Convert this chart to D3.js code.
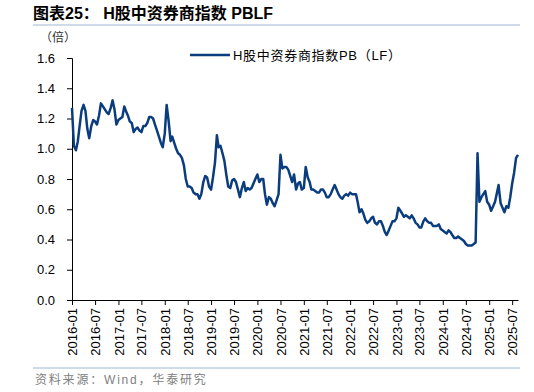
<!DOCTYPE html>
<html><head><meta charset="utf-8">
<script src="https://cdn.jsdelivr.net/npm/d3@7"></script>
<style>
body{margin:0;background:#fff}
svg{display:block}
text{font-family:"Liberation Sans",Arial,"Noto Sans CJK SC",sans-serif}
</style>
</head><body>
<svg id="chart" width="534" height="392"></svg>
<script>
const titleText = "图表25： H股中资券商指数 PBLF";
const unitText = "（倍）";
const seriesName = "H股中资券商指数PB（LF）";
const sourceText = "资料来源：Wind，华泰研究";
const yTickValues = [0, 0.2, 0.4, 0.6, 0.8, 1.0, 1.2, 1.4, 1.6];
const xTickLabels = ["2016-01","2016-07","2017-01","2017-07","2018-01","2018-07","2019-01","2019-07","2020-01","2020-07","2021-01","2021-07","2022-01","2022-07","2023-01","2023-07","2024-01","2024-07","2025-01","2025-07"];
const dates = [
"2016-01-01","2016-01-16","2016-02-01","2016-02-16","2016-03-01","2016-03-16","2016-04-01","2016-04-16","2016-05-01","2016-05-16","2016-06-01","2016-06-16","2016-07-01","2016-07-16","2016-08-01","2016-08-16","2016-09-01","2016-09-16","2016-10-01","2016-10-16","2016-11-01","2016-11-16","2016-12-01","2016-12-16",
"2017-01-01","2017-01-16","2017-02-01","2017-02-16","2017-03-01","2017-03-16","2017-04-01","2017-04-16","2017-05-01","2017-05-16","2017-06-01","2017-06-16","2017-07-01","2017-07-16","2017-08-01","2017-08-16","2017-09-01","2017-09-16","2017-10-01","2017-10-16","2017-11-01","2017-11-16","2017-12-01","2017-12-16",
"2018-01-01","2018-01-16","2018-02-01","2018-02-16","2018-03-01","2018-03-16","2018-04-01","2018-04-16","2018-05-01","2018-05-16","2018-06-01","2018-06-16","2018-07-01","2018-07-16","2018-08-01","2018-08-16","2018-09-01","2018-09-16","2018-10-01","2018-10-16","2018-11-01","2018-11-16","2018-12-01","2018-12-16",
"2019-01-01","2019-01-16","2019-02-01","2019-02-16","2019-03-01","2019-03-16","2019-04-01","2019-04-16","2019-05-01","2019-05-16","2019-06-01","2019-06-16","2019-07-01","2019-07-16","2019-08-01","2019-08-16","2019-09-01","2019-09-16","2019-10-01","2019-10-16","2019-11-01","2019-11-16","2019-12-01","2019-12-16",
"2020-01-01","2020-01-16","2020-02-01","2020-02-16","2020-03-01","2020-03-16","2020-04-01","2020-04-16","2020-05-01","2020-05-16","2020-06-01","2020-06-16","2020-07-01","2020-07-16","2020-08-01","2020-08-16","2020-09-01","2020-09-16","2020-10-01","2020-10-16","2020-11-01","2020-11-16","2020-12-01","2020-12-16",
"2021-01-01","2021-01-16","2021-02-01","2021-02-16","2021-03-01","2021-03-16","2021-04-01","2021-04-16","2021-05-01","2021-05-16","2021-06-01","2021-06-16","2021-07-01","2021-07-16","2021-08-01","2021-08-16","2021-09-01","2021-09-16","2021-10-01","2021-10-16","2021-11-01","2021-11-16","2021-12-01","2021-12-16",
"2022-01-01","2022-01-16","2022-02-01","2022-02-16","2022-03-01","2022-03-16","2022-04-01","2022-04-16","2022-05-01","2022-05-16","2022-06-01","2022-06-16","2022-07-01","2022-07-16","2022-08-01","2022-08-16","2022-09-01","2022-09-16","2022-10-01","2022-10-16","2022-11-01","2022-11-16","2022-12-01","2022-12-16",
"2023-01-01","2023-01-16","2023-02-01","2023-02-16","2023-03-01","2023-03-16","2023-04-01","2023-04-16","2023-05-01","2023-05-16","2023-06-01","2023-06-16","2023-07-01","2023-07-16","2023-08-01","2023-08-16","2023-09-01","2023-09-16","2023-10-01","2023-10-16","2023-11-01","2023-11-16","2023-12-01","2023-12-16",
"2024-01-01","2024-01-16","2024-02-01","2024-02-16","2024-03-01","2024-03-16","2024-04-01","2024-04-16","2024-05-01","2024-05-16","2024-06-01","2024-06-16","2024-07-01","2024-07-16","2024-08-01","2024-08-16","2024-09-01","2024-09-16","2024-10-01","2024-10-16","2024-11-01","2024-11-16","2024-12-01","2024-12-16",
"2025-01-01","2025-01-16","2025-02-01","2025-02-16","2025-03-01","2025-03-16","2025-04-01","2025-04-16","2025-05-01","2025-05-16","2025-06-01","2025-06-16","2025-07-01","2025-07-16","2025-08-01","2025-08-16"
];
const pbValues = [
1.27,1.02,0.99,1.05,1.15,1.25,1.29,1.25,1.13,1.07,
1.15,1.19,1.18,1.16,1.22,1.30,1.28,1.26,1.24,1.23,
1.27,1.32,1.26,1.16,1.19,1.20,1.21,1.28,1.25,1.22,
1.18,1.17,1.11,1.13,1.14,1.12,1.11,1.15,1.15,1.17,
1.21,1.21,1.20,1.16,1.12,1.08,1.04,1.01,1.10,1.29,
1.18,1.05,1.08,1.04,1.00,0.97,0.96,0.94,0.89,0.80,
0.75,0.75,0.74,0.71,0.70,0.70,0.67,0.70,0.78,0.82,
0.81,0.75,0.73,0.81,0.91,1.09,1.01,1.02,0.97,0.92,
0.83,0.75,0.74,0.79,0.80,0.78,0.73,0.68,0.74,0.78,
0.72,0.74,0.73,0.74,0.77,0.80,0.83,0.78,0.80,0.80,
0.70,0.63,0.68,0.67,0.64,0.62,0.66,0.70,0.96,0.87,
0.88,0.88,0.86,0.82,0.78,0.83,0.73,0.77,0.78,0.73,
0.74,0.88,0.81,0.78,0.73,0.73,0.72,0.71,0.71,0.73,
0.73,0.71,0.68,0.68,0.70,0.73,0.76,0.73,0.70,0.68,
0.67,0.69,0.70,0.69,0.71,0.70,0.70,0.70,0.65,0.58,
0.60,0.57,0.53,0.51,0.52,0.54,0.55,0.51,0.50,0.52,
0.52,0.49,0.45,0.43,0.46,0.49,0.52,0.52,0.54,0.61,
0.59,0.57,0.55,0.56,0.55,0.54,0.56,0.54,0.51,0.50,
0.48,0.48,0.52,0.54,0.52,0.51,0.51,0.49,0.49,0.49,
0.50,0.47,0.46,0.45,0.44,0.46,0.45,0.43,0.41,0.41,
0.42,0.41,0.40,0.39,0.37,0.36,0.36,0.36,0.37,0.38,
0.97,0.65,0.68,0.70,0.72,0.65,0.63,0.59,0.62,0.65,
0.70,0.76,0.64,0.61,0.58,0.62,0.61,0.68,0.77,0.84,
0.94,0.96
];

const lineColor = "#0b3d7e";
const parse = d3.timeParse("%Y-%m-%d");
const parseMonth = d3.timeParse("%Y-%m");
const data = dates.map((d, i) => ({date: parse(d), v: pbValues[i]}));

const svg = d3.select("#chart");
const plotLeft = 72, plotRight = 518, plotTop = 58, plotBottom = 300;

const x = d3.scaleTime()
  .domain([parse(dates[0]), parse(dates[dates.length - 1])])
  .range([plotLeft, plotRight]);
const y = d3.scaleLinear().domain([0, 1.6]).range([plotBottom, plotTop]);

// title
svg.append("text").attr("x", 33).attr("y", 19)
  .style("font-size", "16px").style("font-weight", "bold").attr("fill", "#000")
  .text(titleText);
svg.append("line").attr("x1", 33).attr("x2", 520).attr("y1", 25).attr("y2", 25)
  .attr("stroke", "#9fb6d3").attr("stroke-width", 1);

// unit
svg.append("text").attr("x", 40).attr("y", 42)
  .style("font-size", "12px").attr("fill", "#333").text(unitText);

// axes
const yAxis = d3.axisLeft(y).tickValues(yTickValues).tickFormat(d3.format(".1f"))
  .tickSize(5).tickPadding(12);
const gy = svg.append("g").attr("transform", `translate(${plotLeft},0)`).call(yAxis);
gy.selectAll("text").style("font-size", "13px").attr("fill", "#000");
gy.select(".domain").attr("stroke", "#000");
gy.selectAll(".tick line").attr("stroke", "#000");

const xAxis = d3.axisBottom(x).tickValues(xTickLabels.map(parseMonth))
  .tickFormat(d3.timeFormat("%Y-%m")).tickSize(5).tickSizeOuter(0);
const gx = svg.append("g").attr("transform", `translate(0,${plotBottom})`).call(xAxis);
gx.select(".domain").attr("stroke", "#000");
gx.selectAll(".tick line").attr("stroke", "#000");
gx.selectAll("text")
  .attr("transform", "rotate(-90)")
  .attr("x", -8).attr("y", 0).attr("dy", "0.35em")
  .style("text-anchor", "end").style("font-size", "13px").attr("fill", "#000");

// series
const line = d3.line().x(d => x(d.date)).y(d => y(d.v));
svg.append("path").datum(data).attr("d", line)
  .attr("fill", "none").attr("stroke", lineColor).attr("stroke-width", 2.5)
  .attr("stroke-linejoin", "round");

// legend
svg.append("line").attr("x1", 190).attr("x2", 230).attr("y1", 55).attr("y2", 55)
  .attr("stroke", lineColor).attr("stroke-width", 2.5);
svg.append("text").attr("x", 233).attr("y", 59.5)
  .style("font-size", "13px").style("letter-spacing", "0.7px").attr("fill", "#000").text(seriesName);

// source
svg.append("line").attr("x1", 33).attr("x2", 520).attr("y1", 368).attr("y2", 368)
  .attr("stroke", "#9fb6d3").attr("stroke-width", 1);
svg.append("text").attr("x", 35).attr("y", 384)
  .style("font-size", "12px").style("letter-spacing", "1.8px").attr("fill", "#808080").text(sourceText);
</script>
</body></html>
